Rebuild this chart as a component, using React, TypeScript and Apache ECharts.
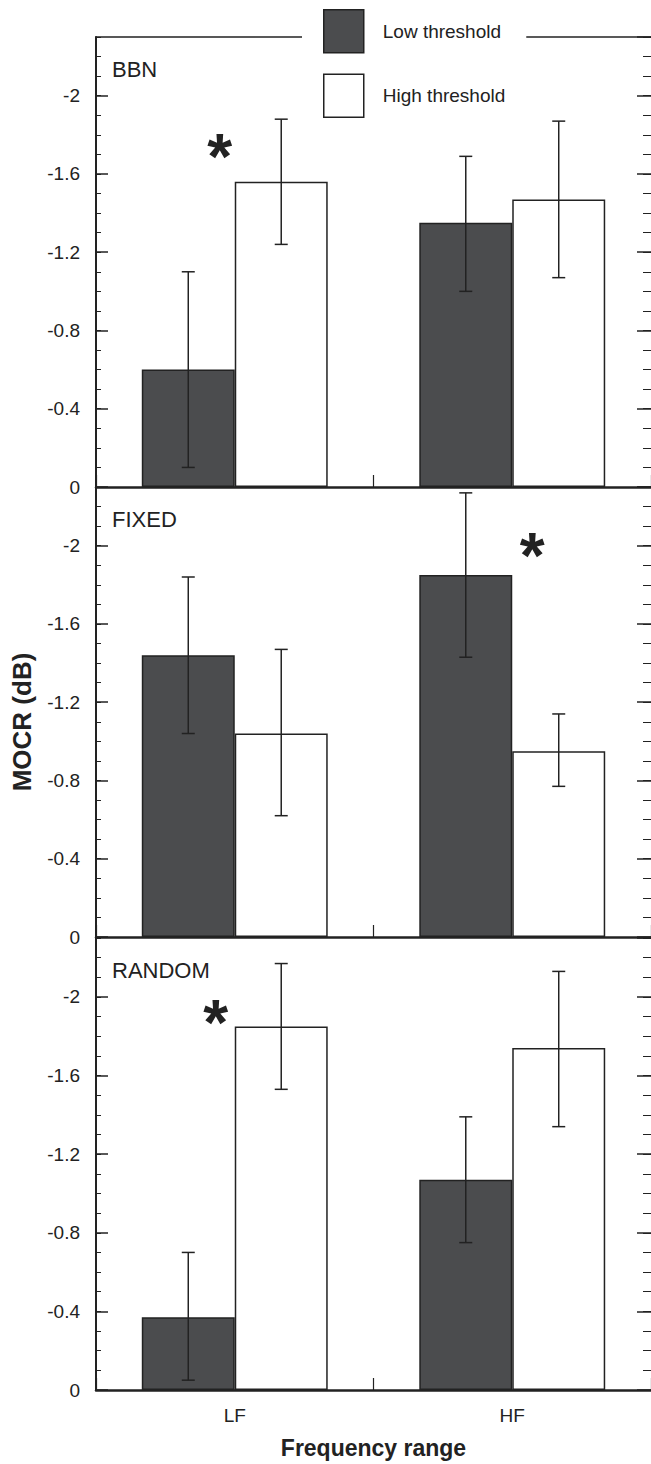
import React, { useEffect, useRef } from "react";
import * as echarts from "echarts";

// ---------- data ----------
const CATEGORIES = ["LF", "HF"];
const PANELS = ["BBN", "FIXED", "RANDOM"];
const SERIES_NAMES = ["Low threshold", "High threshold"];
const Y_TICK_LABELS = [0, -0.4, -0.8, -1.2, -1.6, -2];
const Y_EXTENT = -2.3;

// MOCR (dB) means per category [LF, HF]
const BBN_LOW = [-0.6, -1.35];
const BBN_HIGH = [-1.56, -1.47];
const FIXED_LOW = [-1.44, -1.85];
const FIXED_HIGH = [-1.04, -0.95];
const RANDOM_LOW = [-0.37, -1.07];
const RANDOM_HIGH = [-1.85, -1.74];

// error bar ends [lower end, upper end] per category
const BBN_LOW_ERR = [[-0.1, -1.1], [-1.0, -1.69]];
const BBN_HIGH_ERR = [[-1.24, -1.88], [-1.07, -1.87]];
const FIXED_LOW_ERR = [[-1.04, -1.84], [-1.43, -2.27]];
const FIXED_HIGH_ERR = [[-0.62, -1.47], [-0.77, -1.14]];
const RANDOM_LOW_ERR = [[-0.05, -0.7], [-0.75, -1.39]];
const RANDOM_HIGH_ERR = [[-1.53, -2.17], [-1.34, -2.13]];

// significance stars: category and level
const STAR_CATEGORY = ["LF", "HF", "LF"];
const STAR_LEVEL = [-1.76, -2.02, -1.94];

// ---------- style ----------
const FONT = '"Liberation Sans", Arial, Helvetica, sans-serif';
const INK = "#222";
const DARK = "#4b4c4e";
const GRID_TOPS = [37, 487, 938];
const GRID_HEIGHTS = [450, 450, 452];
const GAP = 0.33;
const STAR_DX = [-15, 20, -19];
const STAR_SIZE = 64;

const MEANS = [
  [BBN_LOW, BBN_HIGH],
  [FIXED_LOW, FIXED_HIGH],
  [RANDOM_LOW, RANDOM_HIGH],
];
const ERRS = [
  [BBN_LOW_ERR, BBN_HIGH_ERR],
  [FIXED_LOW_ERR, FIXED_HIGH_ERR],
  [RANDOM_LOW_ERR, RANDOM_HIGH_ERR],
];

const mag = (v: number) => -v;

function buildOption() {
  const grids = PANELS.map((_, p) => ({
    left: 96,
    right: -5,
    top: GRID_TOPS[p],
    height: GRID_HEIGHTS[p],
  }));

  const xAxes: any[] = PANELS.map((_, p) => ({
    type: "category",
    gridIndex: p,
    data: CATEGORIES,
    position: "bottom",
    axisLine: { show: true, onZero: false, lineStyle: { color: INK, width: 2.5 } },
    axisTick: { show: true, inside: true, length: 12, lineStyle: { color: INK, width: 1.2 } },
    axisLabel: {
      show: p === PANELS.length - 1,
      margin: 16,
      fontSize: 19,
      color: INK,
      fontFamily: FONT,
    },
    name: p === PANELS.length - 1 ? "Frequency range" : "",
    nameLocation: "middle",
    nameGap: 46,
    nameTextStyle: { fontSize: 23, fontWeight: "bold", color: INK, fontFamily: FONT },
  }));
  // top frame of first panel
  xAxes.push({
    type: "category",
    gridIndex: 0,
    data: CATEGORIES,
    position: "top",
    axisLine: { show: true, onZero: false, lineStyle: { color: INK, width: 1.5 } },
    axisTick: { show: false },
    axisLabel: { show: false },
  });

  const labelFormatter = (v: number) => {
    const t = Y_TICK_LABELS.find((x) => Math.abs(mag(x) - v) < 1e-6);
    return t === undefined ? "" : String(t);
  };

  const yAxes: any[] = [];
  PANELS.forEach((_, p) => {
    const base = {
      type: "value",
      gridIndex: p,
      min: 0,
      max: mag(Y_EXTENT),
      splitLine: { show: false },
    };
    yAxes.push({
      ...base,
      position: "left",
      interval: 0.1,
      axisLine: { show: true, onZero: false, lineStyle: { color: INK, width: 2 } },
      axisTick: { show: true, inside: true, length: 5, lineStyle: { color: INK, width: 1 } },
      axisLabel: { show: false },
    });
    yAxes.push({
      ...base,
      position: "left",
      interval: 0.4,
      axisLine: { show: false, onZero: false },
      axisTick: { show: true, inside: true, length: 12, lineStyle: { color: INK, width: 1.5 } },
      axisLabel: {
        show: true,
        margin: 16,
        fontSize: 19,
        color: INK,
        fontFamily: FONT,
        showMaxLabel: false,
        formatter: labelFormatter,
      },
    });
    yAxes.push({
      ...base,
      position: "right",
      interval: 0.1,
      axisLine: { show: false, onZero: false },
      axisTick: { show: true, inside: true, length: 8, lineStyle: { color: INK, width: 1 } },
      axisLabel: { show: false },
    });
    yAxes.push({
      ...base,
      position: "right",
      interval: 0.4,
      axisLine: { show: false, onZero: false },
      axisTick: { show: true, inside: true, length: 14, lineStyle: { color: INK, width: 1.5 } },
      axisLabel: { show: false },
    });
  });

  const errRender = (params: any, api: any) => {
    const cat = api.value(0);
    const lo = api.value(1);
    const hi = api.value(2);
    const side = api.value(3);
    const band = api.size([1, 0])[0];
    const bw = (band * (1 - GAP)) / 2;
    const cx = api.coord([cat, 0])[0] + (side === 0 ? -bw / 2 : bw / 2);
    const y1 = api.coord([cat, lo])[1];
    const y2 = api.coord([cat, hi])[1];
    const cap = 6.5;
    const style = { stroke: INK, lineWidth: 1.5 };
    return {
      type: "group",
      children: [
        { type: "line", shape: { x1: cx, y1, x2: cx, y2 }, style },
        { type: "line", shape: { x1: cx - cap, y1, x2: cx + cap, y2: y1 }, style },
        { type: "line", shape: { x1: cx - cap, y1: y2, x2: cx + cap, y2 }, style },
      ],
    };
  };

  const starRender = (params: any, api: any) => {
    const cat = api.value(0);
    const lvl = api.value(1);
    const p = api.value(2);
    const pt = api.coord([cat, lvl]);
    return {
      type: "text",
      x: pt[0] + STAR_DX[p],
      y: pt[1] + STAR_SIZE * 0.22,
      style: {
        text: "*",
        fontSize: STAR_SIZE,
        fontWeight: "bold",
        fontFamily: FONT,
        fill: INK,
        align: "center",
        verticalAlign: "middle",
      },
    };
  };

  const series: any[] = [];
  PANELS.forEach((_, p) => {
    SERIES_NAMES.forEach((name, s) => {
      series.push({
        type: "bar",
        name,
        xAxisIndex: p,
        yAxisIndex: 4 * p + 1,
        data: MEANS[p][s].map(mag),
        barGap: "0%",
        barCategoryGap: GAP * 100 + "%",
        itemStyle: { color: s === 0 ? DARK : "#fff", borderColor: INK, borderWidth: 1.5 },
        z: 2,
      });
    });
    const errData: number[][] = [];
    CATEGORIES.forEach((_, c) => {
      SERIES_NAMES.forEach((__, s) => {
        const e = ERRS[p][s][c];
        errData.push([c, mag(e[0]), mag(e[1]), s]);
      });
    });
    series.push({
      type: "custom",
      xAxisIndex: p,
      yAxisIndex: 4 * p + 1,
      renderItem: errRender,
      encode: { x: 0, y: [1, 2] },
      data: errData,
      z: 5,
      silent: true,
    });
    series.push({
      type: "custom",
      xAxisIndex: p,
      yAxisIndex: 4 * p + 1,
      renderItem: starRender,
      encode: { x: 0, y: 1 },
      data: [[CATEGORIES.indexOf(STAR_CATEGORY[p]), mag(STAR_LEVEL[p]), p]],
      z: 6,
      silent: true,
    });
  });

  const titles = PANELS.map((name, p) => ({
    text: name,
    left: 107,
    top: GRID_TOPS[p] + 16,
    textStyle: { fontSize: 22, fontWeight: "normal", color: INK, fontFamily: FONT },
  }));

  return {
    animation: false,
    backgroundColor: "#fff",
    title: titles,
    grid: grids,
    xAxis: xAxes,
    yAxis: yAxes,
    legend: {
      left: 302,
      top: 0,
      orient: "vertical",
      selectedMode: false,
      itemWidth: 40,
      itemHeight: 43,
      itemGap: 20,
      padding: [9, 21, 8, 21],
      backgroundColor: "#fff",
      icon: "rect",
      z: 10,
      textStyle: { fontSize: 19, color: INK, fontFamily: FONT, padding: [0, 0, 0, 14] },
      data: [
        { name: SERIES_NAMES[0], itemStyle: { color: DARK, borderColor: INK, borderWidth: 1.5 } },
        { name: SERIES_NAMES[1], itemStyle: { color: "#fff", borderColor: INK, borderWidth: 1.5 } },
      ],
    },
    graphic: [
      {
        type: "text",
        x: 22,
        y: 722,
        rotation: Math.PI / 2,
        style: {
          text: "MOCR (dB)",
          fontSize: 26,
          fontWeight: "bold",
          fontFamily: FONT,
          fill: INK,
          align: "center",
          verticalAlign: "middle",
        },
      },
    ],
    series,
  };
}

export default function App() {
  const ref = useRef<HTMLDivElement>(null);
  useEffect(() => {
    if (!ref.current) return;
    const chart = echarts.init(ref.current, null, { renderer: "svg" });
    chart.setOption(buildOption() as any);
    return () => chart.dispose();
  }, []);
  return (
    <div
      ref={ref}
      style={{ position: "absolute", left: 0, top: 0, width: 651, height: 1464, background: "#fff" }}
    />
  );
}
